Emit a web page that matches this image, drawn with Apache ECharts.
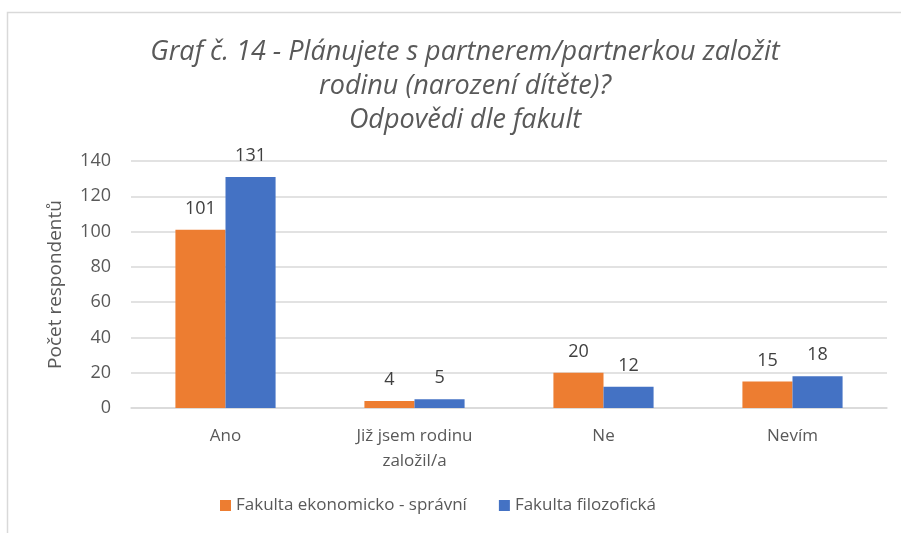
<!DOCTYPE html>
<html>
<head>
<meta charset="utf-8">
<script src="https://cdn.jsdelivr.net/npm/echarts@6/dist/echarts.min.js"></script>
<style>
  html, body { margin: 0; padding: 0; background: #fff; }
  #chart { width: 901px; height: 533px; }
</style>
</head>
<body>
<div id="chart"></div>
<script>
// data
const categories = ["Ano", "Již jsem rodinu\nzaložil/a", "Ne", "Nevím"];
const ekonomValues = [101, 4, 20, 15];
const filozofValues = [131, 5, 12, 18];
const seriesNames = ["Fakulta ekonomicko - správní", "Fakulta filozofická"];
const yTicks = [0, 20, 40, 60, 80, 100, 120, 140];

const font = "Open Sans";
const textGrey = "#595959";

const chart = echarts.init(document.getElementById("chart"));

const barLabel = {
  show: true,
  position: "top",
  distance: 12,
  color: "#404040",
  fontSize: 18,
  fontFamily: font,
};

const option = {
  animation: false,
  textStyle: { fontFamily: font },
  graphic: [
    {
      type: "rect",
      shape: { x: 7.5, y: 12.5, width: 1000, height: 1000 },
      style: { fill: "none", stroke: "#d9d9d9", lineWidth: 1.5 },
      silent: true,
    },
  ],
  title: {
    text: "Graf č. 14 - Plánujete s partnerem/partnerkou založit\nrodinu (narození dítěte)?\nOdpovědi dle fakult",
    left: 460,
    top: 30,
    textAlign: "center",
    textStyle: {
      fontFamily: font,
      fontStyle: "italic",
      fontWeight: "normal",
      fontSize: 27,
      lineHeight: 34,
      color: textGrey,
    },
  },
  legend: {
    data: seriesNames,
    bottom: 14,
    left: 215,
    icon: "rect",
    itemWidth: 11,
    itemHeight: 11,
    itemGap: 32,
    textStyle: { fontFamily: font, fontSize: 17, color: textGrey },
  },
  grid: {
    left: 131,
    right: 14,
    top: 161,
    bottom: 125,
  },
  xAxis: {
    type: "category",
    data: categories,
    axisTick: { show: false },
    axisLine: { lineStyle: { color: "#d9d9d9", width: 1.5 } },
    axisLabel: {
      color: textGrey,
      fontSize: 17,
      fontFamily: font,
      margin: 16,
      lineHeight: 25,
    },
  },
  yAxis: {
    type: "value",
    min: 0,
    max: yTicks[yTicks.length - 1],
    interval: 20,
    name: "Počet respondentů",
    nameLocation: "middle",
    nameRotate: 90,
    nameGap: 66,
    nameTextStyle: { color: textGrey, fontSize: 19, fontFamily: font },
    axisLine: { show: false },
    axisTick: { show: false },
    axisLabel: { color: textGrey, fontSize: 18, fontFamily: font, margin: 20 },
    splitLine: { lineStyle: { color: "#d9d9d9", width: 1.5 } },
  },
  series: [
    {
      name: seriesNames[0],
      type: "bar",
      data: ekonomValues,
      barGap: "0%",
      barCategoryGap: "47%",
      itemStyle: { color: "#ED7D31" },
      label: barLabel,
    },
    {
      name: seriesNames[1],
      type: "bar",
      data: filozofValues,
      itemStyle: { color: "#4472C4" },
      label: barLabel,
    },
  ],
};

chart.setOption(option);
</script>
</body>
</html>
